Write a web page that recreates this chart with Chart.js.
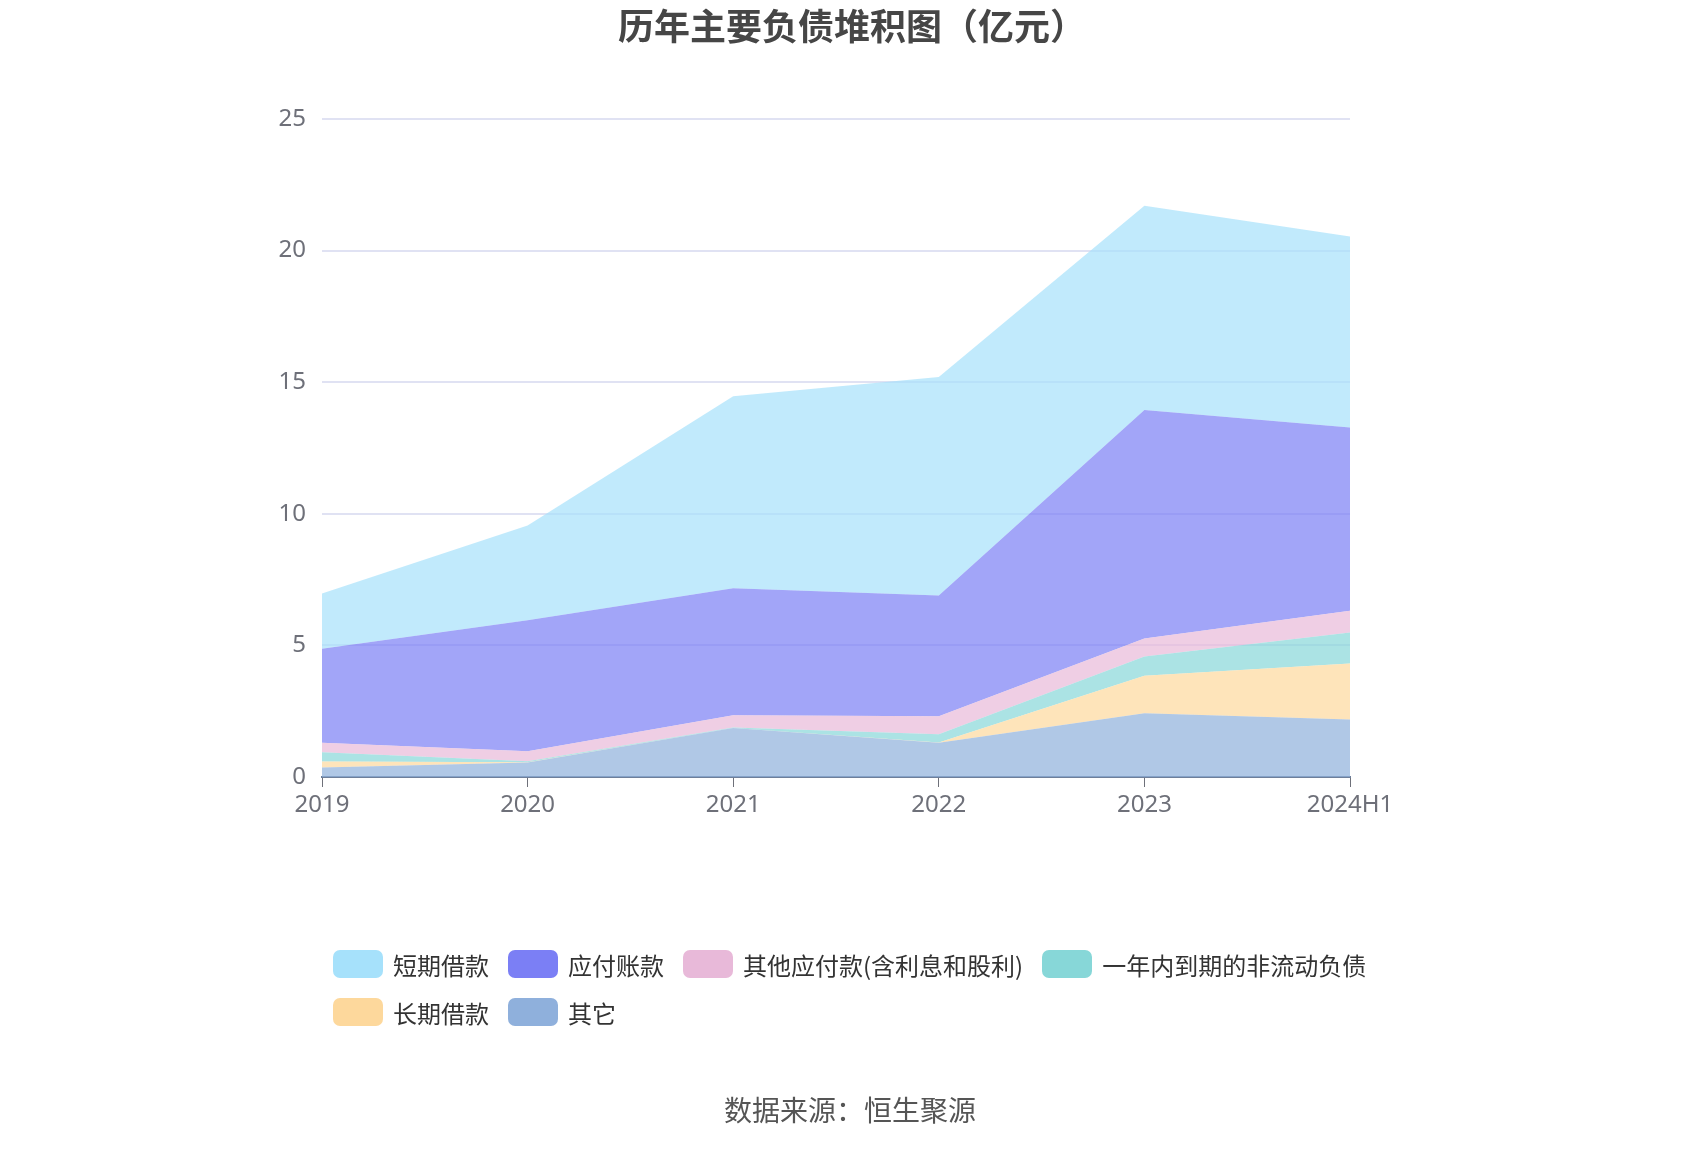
<!DOCTYPE html>
<html>
<head>
<meta charset="utf-8">
<script src="https://cdn.jsdelivr.net/npm/chart.js@4.4.1/dist/chart.umd.min.js"></script>
<style>
	body{margin:0;background:#fff;font-family:"Noto Sans CJK SC","Noto Sans",sans-serif;}
	#wrap{position:relative;width:1700px;height:1150px;overflow:hidden;}
	#grafica{position:absolute;left:0;top:0;}
	#titulo{position:absolute;left:2px;top:-2px;width:1700px;text-align:center;font-size:36px;font-weight:bold;color:#464646;}
	#leyenda{position:absolute;left:333px;top:946px;width:1080px;display:flex;flex-wrap:wrap;}
	#leyenda .item{display:flex;align-items:center;margin-right:19px;height:36px;margin-bottom:12px;font-size:24px;color:#333;}
	#leyenda .caja{width:50px;height:28px;border-radius:7px;margin-right:10px;}
	#fuente{position:absolute;left:0;top:1089px;width:1700px;text-align:center;font-size:28px;color:#555;}
</style>
</head>
<body>
<div id="wrap">
	<canvas id="grafica" width="1700" height="1150"></canvas>
	<div id="titulo">历年主要负债堆积图（亿元）</div>
	<div id="leyenda"></div>
	<div id="fuente">数据来源：恒生聚源</div>
</div>
<script>
var ANIOS=['2019','2020','2021','2022','2023','2024H1'];
var TICKS_Y=[0,5,10,15,20,25];

// valores por serie (de abajo hacia arriba en la pila)
var QITA=[0.36,0.55,1.86,1.30,2.42,2.18];
var CHANGQI=[0.23,0.01,0.00,0.01,1.43,2.13];
var YINIAN=[0.35,0.04,0.02,0.31,0.73,1.18];
var QITAYINGFU=[0.36,0.38,0.47,0.69,0.68,0.83];
var YINGFU=[3.57,4.98,4.82,4.59,8.68,6.96];
var DUANQI=[2.10,3.60,7.30,8.30,7.76,7.26];

var SERIES=[
	{nombre:'其它',data:QITA,color:'#8fb0dc'},
	{nombre:'长期借款',data:CHANGQI,color:'#fdd89c'},
	{nombre:'一年内到期的非流动负债',data:YINIAN,color:'#87d7d8'},
	{nombre:'其他应付款(含利息和股利)',data:QITAYINGFU,color:'#e8b9d9'},
	{nombre:'应付账款',data:YINGFU,color:'#7b7ff5'},
	{nombre:'短期借款',data:DUANQI,color:'#a6e1fb'}
];

function hexAlpha(hex,a){
	var r=parseInt(hex.substr(1,2),16),g=parseInt(hex.substr(3,2),16),b=parseInt(hex.substr(5,2),16);
	return 'rgba('+r+','+g+','+b+','+a+')';
}

var DATASETS=new Array();
for(var i=0;i<SERIES.length;i++){
	DATASETS.push({
		label:SERIES[i].nombre,
		data:SERIES[i].data,
		backgroundColor:hexAlpha(SERIES[i].color,0.7),
		borderColor:hexAlpha(SERIES[i].color,0.7),
		borderWidth:0,
		pointRadius:0,
		fill:(i==0?'origin':'-1'),
		tension:0
	});
}

// leyenda en html, orden inverso (arriba de la pila primero)
for(var i=SERIES.length-1;i>=0;i--){
	var el=document.createElement('div');
	el.className='item';
	el.innerHTML='<div class="caja" style="background:'+SERIES[i].color+'"></div><span>'+SERIES[i].nombre+'</span>';
	document.getElementById('leyenda').appendChild(el);
}

var fuenteEjes={family:'"Noto Sans","Open Sans",sans-serif',size:24};
var config={
	type:'line',
	data:{labels:ANIOS,datasets:DATASETS},
	options:{
		responsive:false,
		animation:false,
		layout:{padding:{left:262,right:350,top:119,bottom:323}},
		plugins:{legend:{display:false},tooltip:{enabled:false},title:{display:false}},
		scales:{
			x:{
				offset:false,
				grid:{drawOnChartArea:false,drawTicks:true,tickLength:10,color:'#6e7079'},
				border:{color:'#6e7f9a',width:2},
				ticks:{color:'#6e7079',font:fuenteEjes,padding:4,maxRotation:0,autoSkip:false},
				afterFit:function(s){s.height=50;}
			},
			y:{
				stacked:true,
				min:0,max:25,
				afterBuildTicks:function(s){s.ticks=TICKS_Y.map(function(v){return {value:v};});},
				grid:{color:'#e0e2f3',lineWidth:2,drawTicks:false},
				border:{display:false},
				ticks:{color:'#6e7079',font:fuenteEjes,padding:16},
				afterFit:function(s){s.width=60;}
			}
		}
	}
};
new Chart(document.getElementById('grafica').getContext('2d'),config);
</script>
</body>
</html>
